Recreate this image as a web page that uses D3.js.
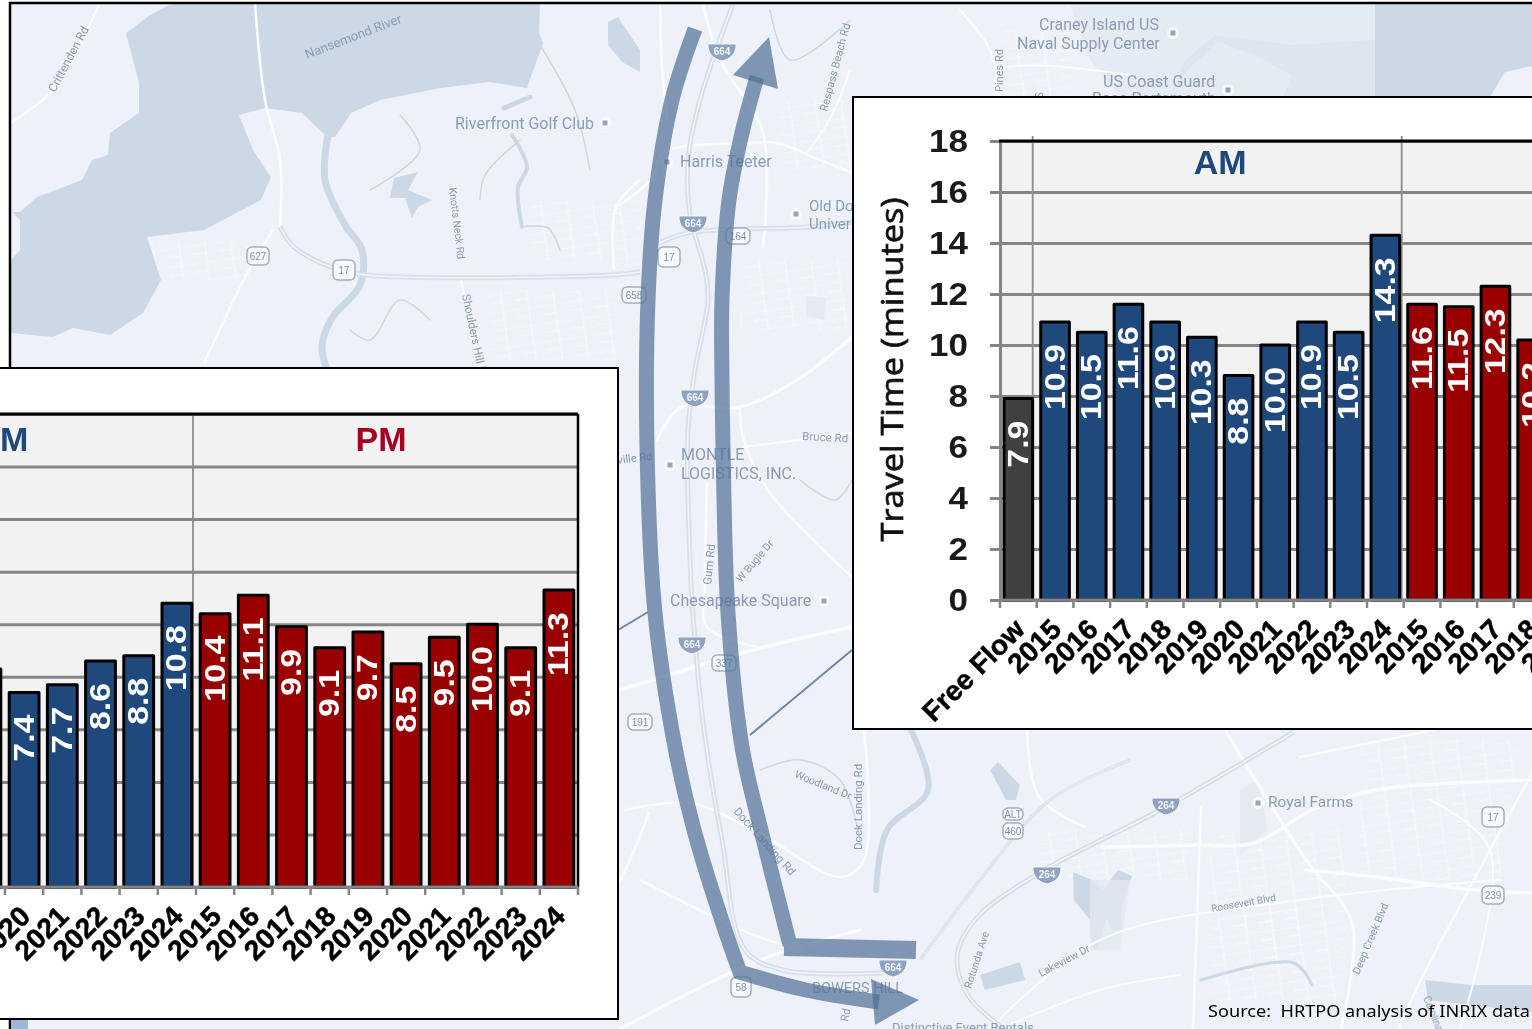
<!DOCTYPE html>
<html><head><meta charset="utf-8">
<script src="https://cdn.jsdelivr.net/npm/d3@7/dist/d3.min.js"></script>
<style>
html,body{margin:0;padding:0;background:#fff;overflow:hidden}
svg{display:block}
text{font-family:"Liberation Sans",Arial,sans-serif}
</style></head><body>
<svg id="c" width="1532" height="1029"></svg>
<script>
// ---- chart data ----
const years = ["2015","2016","2017","2018","2019","2020","2021","2022","2023","2024"];
const freeFlowLabel = "Free Flow";
const eastFreeFlow = [7.9];
const eastAM = [10.9,10.5,11.6,10.9,10.3,8.8,10.0,10.9,10.5,14.3];
const eastPM = [11.6,11.5,12.3,10.2];              // remaining PM bars lie outside the picture
const westAM = [null,null,null,null,8.3,7.4,7.7,8.6,8.8,10.8]; // earlier AM bars lie outside the picture
const westPM = [10.4,11.1,9.9,9.1,9.7,8.5,9.5,10.0,9.1,11.3];
const yTicks = [0,2,4,6,8,10,12,14,16,18];
const yTitle = "Travel Time (minutes)";
const sourceNote = "Source:\u00a0\u00a0HRTPO analysis of INRIX data";

const C = {am:"#1f497d", pm:"#990000", ff:"#404040", grid:"#858585", plot:"#f2f2f2",
           bg:"#eef2f8", water:"#cdd8e6", land2:"#e2e8f1", label:"#8a9cb6"};

const svg = d3.select("#c");
const defs = svg.append("defs");
defs.append("filter").attr("id","soft").append("feGaussianBlur").attr("stdDeviation",0.55);
const streets = defs.append("pattern").attr("id","streets").attr("width",26).attr("height",18)
  .attr("patternUnits","userSpaceOnUse").attr("patternTransform","rotate(-8)");
streets.append("path").attr("d","M0,0H26M0,9H13M13,0V18").attr("stroke","#fbfcfe").attr("stroke-width",1).attr("fill","none");

// ---- background map ----
const map = svg.append("g");
map.append("rect").attr("x",10).attr("y",3).attr("width",1522).attr("height",1026).attr("fill",C.bg);
const m = map.append("g").attr("filter","url(#soft)");
const line = d3.line().curve(d3.curveCatmullRom.alpha(0.5));
const poly = d3.line().curve(d3.curveLinearClosed);

const streetZones = [
 [[1210,830],[1345,830],[1345,1000],[1210,1000]],[[1360,740],[1520,740],[1500,880],[1360,880]],
 [[1040,830],[1190,830],[1190,880],[1040,880]],[[150,240],[250,240],[250,280],[150,280]],
 [[780,100],[850,100],[850,170],[780,170]],[[740,260],[850,260],[850,330],[740,330]],
 [[1000,30],[1070,30],[1070,97],[1000,97]],[[1220,900],[1300,900],[1300,1000]],
 [[530,200],[640,200],[640,260],[530,260]],[[490,290],[620,290],[620,360],[490,360]]
];
m.selectAll(".z").data(streetZones).join("path").attr("d",poly).attr("fill","url(#streets)").attr("opacity",.75);

const waterAreas = [
 [[171,4],[540,4],[539,33],[543,43],[527,88],[490,82],[441,88],[380,100],[351,113],[335,137],[327,137],[302,113],[265,108],[239,115],[253,150],[271,177],[261,200],[204,230],[147,237],[161,280],[143,313],[110,335],[73,328],[53,337],[11,333],[11,260],[20,250],[20,220],[12,212],[20,212],[37,197],[82,180],[92,160],[108,155],[110,133],[139,113],[139,83],[126,33],[150,15]],
 [[608,22],[618,17],[640,50],[640,72],[622,62],[608,45]],
 [[1375,4],[1532,4],[1532,66],[1505,72],[1490,97],[1283,97],[1292,76],[1255,55],[1218,42],[1188,70],[1172,92],[1185,60],[1215,35],[1290,45],[1375,40]],
 [[394,178],[418,172],[408,190],[432,200],[418,207],[412,218],[405,198],[390,198]],
 [[990,770],[998,762],[1020,785],[1016,800],[1006,800]],
 [[1073,872],[1092,880],[1103,890],[1118,870],[1132,876],[1122,905],[1120,930],[1112,930],[1107,918],[1098,948],[1092,948],[1090,920],[1074,900]],
 [[1425,980],[1470,985],[1532,985],[1532,1012],[1470,1005],[1428,1000]],
 [[980,975],[1020,962],[1025,980],[985,990]]
];
m.selectAll(".w").data(waterAreas).join("path").attr("d",poly).attr("fill",C.water);
const paleAreas = [
 [[1070,4],[1375,4],[1375,97],[1120,97],[1090,60]],
 [[806,296],[826,298],[824,320],[806,316]],[[1240,790],[1258,780],[1268,830],[1240,855]],
 [[1090,880],[1130,880],[1120,950],[1090,950]]
];
m.selectAll(".p").data(paleAreas).join("path").attr("d",poly).attr("fill",C.land2).attr("opacity",.8);

const waterLines = [
 [7,[[328,135],[325,180],[345,225],[362,250],[360,285],[332,318],[322,345],[326,367]]],
 [5,[[504,108],[530,97]]],[4,[[512,135],[527,167],[518,187],[522,227]]],
 [6,[[911,730],[928,790],[887,830],[876,890]]],
 [3,[[1201,980],[1294,963],[1312,985]]],
 [1.5,[[520,140],[485,175],[480,200]]],[1.5,[[370,190],[420,150],[400,115]]],
 [1.5,[[350,330],[370,340],[400,300],[430,320]]],[1.5,[[522,227],[548,228],[560,250]]],
 [1.5,[[540,45],[575,110],[590,170]]],[1.5,[[770,10],[790,60],[850,20]]],
 [1.5,[[800,480],[835,500],[852,480]]],[1.5,[[760,770],[800,760],[840,780],[860,840]]]
];
m.selectAll(".wl").data(waterLines).join("path").attr("d",d=>line(d[1])).attr("fill","none")
  .attr("stroke",C.water).attr("stroke-width",d=>d[0]).attr("stroke-linecap","round");

const whiteRoads = [
 [2.5,[[12,122],[53,90],[98,7]]],
 [2.5,[[255,4],[265,100],[280,160],[280,227]]],
 [2.5,[[273,230],[249,270],[204,363]]],
 [2,[[461,280],[478,363]]],
 [2.5,[[640,180],[616,207],[614,270]]],
 [3,[[703,4],[720,60],[763,133],[763,247]]],
 [2.5,[[660,4],[662,67],[667,117]]],
 [2.5,[[620,205],[653,177],[663,153],[753,143],[777,143],[820,160],[853,173]]],
 [2,[[807,153],[833,113],[850,70]]],
 [3,[[657,440],[680,408],[740,407],[797,380],[852,337]]],
 [2.5,[[740,407],[743,437],[770,493],[852,577]]],
 [2.5,[[743,447],[852,433]]],
 [2.5,[[707,483],[705,580],[707,627],[757,647]]],
 [3.5,[[620,690],[753,650],[852,627]]],
 [2.5,[[625,810],[690,803],[754,830],[841,877],[864,860],[864,730]]],
 [2.5,[[649,813],[630,860],[620,880]]],
 [2.5,[[640,880],[754,935],[800,950]]],
 [3,[[1225,730],[1306,860],[1352,923],[1341,1029]]],
 [3.5,[[1102,847],[1196,845],[1254,843],[1312,810],[1376,790],[1532,780]]],
 [2.5,[[1201,807],[1193,1029]]],
 [3.5,[[1306,870],[1376,877],[1475,890],[1532,893]]],
 [2.5,[[1532,773],[1416,990],[1399,1029]]],
 [2.5,[[1027,730],[1039,797],[1085,827]]],
 [2.5,[[1300,757],[1434,730]]],
 [2,[[990,1029],[1100,940],[1300,900],[1500,880]]],
 [3,[[620,1029],[760,960],[860,930]]],
 [2,[[1000,1029],[1100,990],[1180,975]]],
 [2,[[1430,800],[1490,850],[1460,1029]]],
 [2,[[1130,75],[1000,70],[995,97]]],[2.5,[[960,10],[990,50],[1000,97]]]
];
m.selectAll(".wr").data(whiteRoads).join("path").attr("d",d=>line(d[1])).attr("fill","none")
  .attr("stroke","#fbfcfe").attr("stroke-width",d=>d[0]).attr("stroke-linecap","round");

const greyRoads = [
 [5,[[280,227],[294,247],[331,267],[367,275],[612,275],[640,272]]],
 [5,[[733,4],[700,100],[688,160],[690,215],[705,270],[708,300],[695,370],[688,430],[690,560],[695,640],[704,730],[722,840],[745,950],[783,970],[882,973]]],
 [5,[[660,243],[687,233],[807,227],[853,222]]],
 [5,[[1294,732],[1166,807],[1039,873],[975,920],[957,957],[969,997],[1004,1029]]],
 [3,[[1130,760],[1050,800],[980,880],[920,960]]]
];
m.selectAll(".gr").data(greyRoads).join("path").attr("d",d=>line(d[1])).attr("fill","none")
  .attr("stroke","#d6dfea").attr("stroke-width",d=>d[0]);
m.selectAll(".gr2").data(greyRoads).join("path").attr("d",d=>line(d[1])).attr("fill","none")
  .attr("stroke","#f2f5fa").attr("stroke-width",d=>d[0]*0.3);

// map labels: text, x, y, size, rotation
const mapLabels = [
 ["Riverfront Golf Club",455,129,16,0],["Harris Teeter",680,167,16,0],["Old Do",809,211,15,0],["Univer",809,229,15,0],
 ["Craney Island US",1039,30,16,0],["Naval Supply Center",1017,49,16,0],["US Coast Guard",1103,87,16,0],["Base Portsmouth",1092,104,16,0],
 ["Nansemond River",307,59,13,-21],["Crittenden Rd",55,93,12,-62],["Knotts Neck Rd",449,188,10.5,83],["Shoulders Hill Rd",462,295,11.5,78],
 ["Respass Beach Rd",827,112,11,-75],["Pines Rd",1003,92,11,-90],["Sun",1035,92,10,90],
 ["MONTLE",681,460,16,0],["LOGISTICS, INC.",681,479,16,0],["Chesapeake Square",670,606,16,0],["Bruce Rd",802,440,11.5,3],
 ["ville Rd",618,464,11,-7],["Gum Rd",711,585,11.5,-84],["W Bugle Dr",741,583,10.5,-50],
 ["Woodland Dr",794,777,10.5,22],["Dock Landing Rd",733,812,11.5,48],["Dock Landing Rd",862,850,11.5,-90],["Royal Farms",1268,807,15.5,0],
 ["Rooseveit Blvd",1212,912,10,-10],["Deep Creek Blvd",1359,975,10.5,-67],["Lakeview Dr",1041,977,10.5,-28],["Rotunda Ave",971,989,10.5,-72],
 ["BOWERS HILL",812,993,14.5,0],["Distinctive Event Rentals",892,1032,13,0],["Rd",848,1022,11,-80],["Carolina Rd",1423,998,10,68]
];
m.selectAll(".ml").data(mapLabels).join("text").text(d=>d[0]).attr("transform",d=>`translate(${d[1]},${d[2]}) rotate(${d[4]})`)
  .attr("font-size",d=>d[3]).attr("fill",C.label).style("font-family","Roboto,sans-serif");

const poiDots = [[667,162],[796,214],[1173,33],[1228,90],[670,465],[824,601],[1258,803],[605,123]];
m.selectAll(".poi").data(poiDots).join("circle").attr("cx",d=>d[0]).attr("cy",d=>d[1]).attr("r",6).attr("fill","#f8fafd");
m.selectAll(".poi2").data(poiDots).join("rect").attr("x",d=>d[0]-2.5).attr("y",d=>d[1]-2.5).attr("width",5).attr("height",5).attr("fill","#93a5bf");

// shields
const interstates = [[722,51,"664"],[693,223,"664"],[695,397,"664"],[692,644,"664"],[893,967,"664"],[1166,805,"264"],[1047,874,"264"]];
const shield = map.append("g");
const shieldPath = "M-14,-7 L14,-7 C14.5,2 9,8 0,10 C-9,8 -14.5,2 -14,-7 Z";
interstates.forEach(s=>{
  const g = shield.append("g").attr("transform",`translate(${s[0]},${s[1]})`);
  g.append("path").attr("d",shieldPath).attr("fill","#8fa3c0").attr("stroke","#f4f6fa").attr("stroke-width",1);
  g.append("text").text(s[2]).attr("text-anchor","middle").attr("y",4).attr("font-size",10).attr("font-weight",700).attr("fill","#f4f6fa");
});
const routes = [[344,270,"17",22,20],[669,257,"17",22,20],[1493,817,"17",22,20],[258,256,"627",22,18],[634,295,"658",24,16],[738,236,"164",24,16],[724,663,"337",24,16],[640,722,"191",24,16],[1013,814,"ALT",20,12],[1013,831,"460",20,16],[1493,895,"239",22,18],[741,987,"58",20,20]];
routes.forEach(s=>{
  const g = shield.append("g").attr("transform",`translate(${s[0]},${s[1]})`);
  g.append("rect").attr("x",-s[3]/2).attr("y",-s[4]/2).attr("width",s[3]).attr("height",s[4]).attr("rx",5)
    .attr("fill","#f7f9fc").attr("stroke","#9fb0c6").attr("stroke-width",1.5);
  g.append("text").text(s[2]).attr("text-anchor","middle").attr("y",4).attr("font-size",10).attr("fill","#7f92ac");
});

// map frame
map.append("path").attr("d","M10,1029 L10,3 L1532,3").attr("fill","none").attr("stroke","#000").attr("stroke-width",2.5);
map.append("rect").attr("x",12).attr("y",1020).attr("width",16).attr("height",9).attr("fill","#9db6d6");

// connector lines
[[[618,630],[648,612]],[[852,650],[750,735]]].forEach(l=>{
  svg.append("path").attr("d",d3.line()(l)).attr("stroke","#6d87a8").attr("stroke-width",2).attr("fill","none");
});

// ---- direction arrows ----
const arrowFill = "#4f6f96";
function arrow(curvePts, tailPts, width, tailWidth, head){
  const g = svg.append("g").attr("opacity",.7);
  g.append("path").attr("d",line(curvePts)).attr("fill","none").attr("stroke",arrowFill).attr("stroke-width",width);
  g.append("path").attr("d",line(tailPts)).attr("fill","none").attr("stroke",arrowFill).attr("stroke-width",tailWidth);
  svg.append("path").attr("d",poly(head)).attr("fill",arrowFill).attr("opacity",.7);
}
arrow([[695,29],[672,100],[655,200],[648,300],[647,447],[655,613],[675,747],[694,830],[725,930],[741,975]],
      [[736,971],[806,990],[879,1002]],15,15,
      [[871,979],[919,1000],[875,1025]]);
arrow([[757,77],[742,133],[729,200],[722,300],[722,380],[723,447],[728,613],[742,747],[761,830],[790,945]],
      [[784,947],[916,950]],15,18,
      [[769,37],[733,75],[778,89]]);

// ---- bar panels ----
function panel(o){
  const g = svg.append("g");
  g.append("rect").attr("x",o.box[0]).attr("y",o.box[1]).attr("width",o.box[2]-o.box[0]).attr("height",o.box[3]-o.box[1])
    .attr("fill","#fff").attr("stroke","#000").attr("stroke-width",2);
  const cats = [freeFlowLabel, ...years.map(d=>"AM"+d), ...years.map(d=>"PM"+d)];
  const x = d3.scaleBand().domain(cats).range([o.x0,o.x0+o.step*21]).paddingInner(.22).paddingOuter(.11);
  const y = d3.scaleLinear().domain([0,18]).range([o.y0,o.y1]);
  const left = o.x0, right = x.range()[1];
  g.append("rect").attr("x",left).attr("y",o.y1).attr("width",right-left).attr("height",o.y0-o.y1).attr("fill",C.plot);
  // grid + y axis
  const ya = g.append("g").attr("transform",`translate(${left},0)`)
     .call(d3.axisLeft(y).tickValues(yTicks).tickSize(o.tick?10:0).tickFormat(d3.format("d")));
  ya.selectAll(".domain").attr("stroke",C.grid).attr("stroke-width",3);
  ya.selectAll(".tick line").attr("stroke",C.grid).attr("stroke-width",3);
  ya.selectAll(".tick").append("line").attr("x2",right-left).attr("stroke",C.grid).attr("stroke-width",3);
  ya.selectAll(".tick text").attr("font-size",31).attr("font-weight",700).attr("fill","#1a1a1a")
    .style("font-family",'"Liberation Sans",sans-serif').attr("x",0).attr("dy",".34em")
    .attr("transform","translate(-32,0) scale(1.13,1)");
  // separators
  const sepX = [x("AM2015")-x.step()*.11-4, x("PM2015")-x.step()*.11-o.sepPM];
  sepX.forEach(sx=>g.append("line").attr("x1",sx).attr("x2",sx).attr("y1",o.y1-(o.tick?5:0)).attr("y2",o.y0).attr("stroke","#8c8c8c").attr("stroke-width",1.8));
  // top / right frame
  g.append("line").attr("x1",left-(o.tick?1:0)).attr("x2",right).attr("y1",o.y1).attr("y2",o.y1).attr("stroke","#000").attr("stroke-width",3);
  g.append("line").attr("x1",right).attr("x2",right).attr("y1",o.y1).attr("y2",o.y0).attr("stroke","#000").attr("stroke-width",2.5);
  // bars
  const rows = [];
  o.ff.forEach(v=>rows.push({k:freeFlowLabel,v,c:C.ff}));
  o.am.forEach((v,i)=>{ if(v!=null) rows.push({k:"AM"+years[i],v,c:C.am}); });
  o.pm.forEach((v,i)=>{ if(v!=null) rows.push({k:"PM"+years[i],v,c:C.pm}); });
  g.selectAll(".bar").data(rows).join("rect").attr("x",d=>x(d.k)).attr("width",x.bandwidth())
    .attr("y",d=>y(d.v)).attr("height",d=>o.y0-y(d.v)).attr("fill",d=>d.c).attr("stroke","#000").attr("stroke-width",3).attr("stroke-linejoin","round");
  g.selectAll(".val").data(rows).join("text").text(d=>d.v.toFixed(1))
    .attr("transform",d=>`translate(${x(d.k)+x.bandwidth()/2+9.5},${y(d.v)+22}) rotate(-90) scale(1.13,1)`)
    .attr("text-anchor","end").attr("font-size",30).attr("font-weight",700).attr("fill","#fff");
  // x axis
  const xa = g.append("g").attr("transform",`translate(0,${o.y0})`)
     .call(d3.axisBottom(x).tickValues(o.labels).tickSize(0).tickFormat(d=>d.replace(/^[AP]M/,"")));
  xa.select(".domain").remove();
  xa.selectAll(".tick text").attr("font-size",28).attr("font-weight",700).attr("fill","#000")
    .style("font-family",'"Liberation Sans",sans-serif').attr("text-anchor","end").attr("x",0).attr("y",0).attr("dy",".35em")
    .attr("stroke","#000").attr("stroke-width",.5)
    .attr("transform","translate(1,24) rotate(-45)");
  // axis base and boundary ticks
  g.append("line").attr("x1",left).attr("x2",right).attr("y1",o.y0).attr("y2",o.y0).attr("stroke",C.grid).attr("stroke-width",3);
  const bounds = cats.map(c=>x(c)-x.step()*.11).concat([right]);
  g.selectAll(".bt").data(bounds).join("line").attr("x1",d=>d).attr("x2",d=>d).attr("y1",o.y0).attr("y2",o.y0+8).attr("stroke",C.grid).attr("stroke-width",2.5);
  // period headings
  const amC = (x("AM2015")+x("AM2024")+x.bandwidth())/2+o.headAM, pmC = (x("PM2015")+x("PM2024")+x.bandwidth())/2+o.headPM;
  g.append("text").text("AM").attr("x",amC).attr("y",o.y1+o.headDy).attr("text-anchor","middle").attr("font-size",34).attr("font-weight",700).attr("fill",C.am);
  g.append("text").text("PM").attr("x",pmC).attr("y",o.y1+o.headDy).attr("text-anchor","middle").attr("font-size",34).attr("font-weight",700).attr("fill","#a50021");
  if(o.title){
    g.append("text").text(yTitle).attr("transform",`translate(${o.titleX},${(o.y0+o.y1)/2-1}) rotate(-90)`).attr("text-anchor","middle")
      .attr("font-size",31).attr("fill","#111").attr("font-weight",500)
      .attr("textLength",344).attr("lengthAdjust","spacingAndGlyphs").style("font-family",'"Open Sans",sans-serif').attr("stroke","#111").attr("stroke-width",.7);
  }
}
// left panel
panel({box:[-4,368,618,1019], x0:578-38.2*21, step:38.2, y0:887, y1:414, ff:[], am:westAM, pm:westPM,
       labels:[...years.slice(5).map(d=>"AM"+d), ...years.map(d=>"PM"+d)], tick:false, headDy:37, sepPM:3, headAM:-3, headPM:-6});
// right panel
panel({box:[853,97,1540,729], x0:1000, step:36.7, y0:600, y1:141, ff:eastFreeFlow, am:eastAM, pm:eastPM,
       labels:[freeFlowLabel, ...years.map(d=>"AM"+d), ...years.slice(0,5).map(d=>"PM"+d)], tick:true, headDy:33, sepPM:2, headAM:0, headPM:0, title:true, titleX:903});

svg.append("text").text(sourceNote).attr("x",1208).attr("y",1017).attr("font-size",17).attr("fill","#000")
   .attr("textLength",322).attr("lengthAdjust","spacingAndGlyphs").style("font-family",'"Noto Sans",sans-serif');
</script>
</body></html>
